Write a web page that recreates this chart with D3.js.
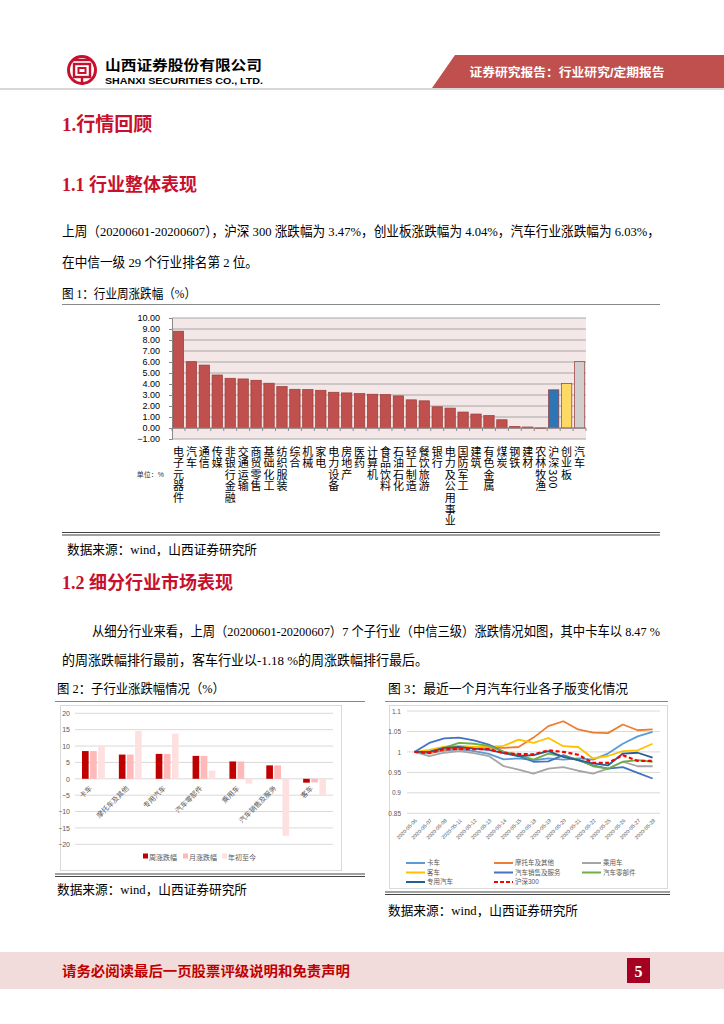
<!DOCTYPE html>
<html>
<head>
<meta charset="utf-8">
<script src="https://cdn.jsdelivr.net/npm/d3@7"></script>
<style>
  body { margin: 0; background: #fff; }
  svg { display: block; }
</style>
</head>
<body>
<div id="page"></div>
<script>
// ---- chart 1 data: weekly change of CITIC level-1 industries (%)
const industries = ["电子元器件","汽车","通信","传媒","非银行金融","交通运输","商贸零售","基础化工","纺织服装","综合","机械","家电","电力设备","房地产","医药","计算机","食品饮料","石油石化","轻工制造","餐饮旅游","银行","电力及公用事业","国防军工","建筑","有色金属","煤炭","钢铁","建材","农林牧渔","沪深300","创业板","汽车"]
const industryChange = [8.80, 6.03, 5.72, 4.82, 4.52, 4.46, 4.34, 4.07, 3.77, 3.52, 3.50, 3.43, 3.25, 3.19, 3.13, 3.07, 3.04, 2.92, 2.56, 2.47, 1.93, 1.81, 1.45, 1.27, 1.14, 0.75, 0.15, 0.09, -0.05, 3.47, 4.04, 6.03]
const industryTicks = [-1, 0, 1, 2, 3, 4, 5, 6, 7, 8, 9, 10]

// ---- chart 2 data: sub-industry change (%)
const subIndustries = ["卡车","摩托车及其他","专用汽车","汽车零部件","乘用车","汽车销售及服务","客车"]
const weekChange = [8.47, 7.40, 7.60, 7.00, 5.30, 4.10, -1.18]
const monthChange = [8.47, 7.40, 7.60, 7.00, 5.30, 4.10, -1.10]
const ytdChange = [10.1, 14.6, 13.8, 2.5, -1.5, -17.4, -5.1]
const subSeries = ["周涨跌幅","月涨跌幅","年初至今"]
const subTicks = [-20, -15, -10, -5, 0, 5, 10, 15, 20]

// ---- chart 3 data: normalised index of sub-sectors over the last month
const dates = ["2020-05-06","2020-05-07","2020-05-08","2020-05-11","2020-05-12","2020-05-13","2020-05-14","2020-05-15","2020-05-18","2020-05-19","2020-05-20","2020-05-21","2020-05-22","2020-05-25","2020-05-26","2020-05-27","2020-05-28"]
const truck     = [1, 0.997, 1.003, 1.007, 1.002, 0.995, 0.982, 0.984, 0.980, 0.984, 0.981, 0.984, 0.981, 0.996, 1.020, 1.038, 1.049]
const moto      = [1, 0.998, 1.005, 1.010, 1.010, 1.010, 1.010, 1.012, 1.035, 1.063, 1.075, 1.055, 1.047, 1.046, 1.067, 1.053, 1.055]
const passenger = [1, 0.990, 0.998, 1.002, 0.997, 0.990, 0.965, 0.957, 0.947, 0.959, 0.963, 0.954, 0.947, 0.959, 0.976, 0.965, 0.965]
const bus       = [1, 1.005, 1.013, 1.015, 1.012, 1.013, 1.015, 1.030, 1.022, 1.034, 1.014, 1.012, 0.984, 0.990, 1.002, 1.004, 1.020]
const sales     = [1, 1.022, 1.033, 1.035, 1.028, 1.018, 1.000, 0.990, 0.976, 0.977, 0.992, 0.980, 0.967, 0.959, 0.963, 0.949, 0.935]
const parts     = [1, 1.000, 1.010, 1.022, 1.020, 1.015, 1.000, 0.993, 0.981, 0.996, 0.989, 0.981, 0.965, 0.959, 0.976, 0.980, 0.976]
const special   = [1, 1.000, 1.010, 1.012, 1.008, 1.005, 0.997, 0.990, 0.992, 1.002, 0.988, 0.980, 0.972, 0.967, 0.996, 0.998, 0.986]
const hs300     = [1, 0.997, 1.007, 1.007, 1.007, 1.007, 0.997, 0.995, 0.994, 1.004, 1.000, 0.993, 0.973, 0.973, 0.992, 0.978, 0.978]
const lineNames = ["卡车","摩托车及其他","乘用车","客车","汽车销售及服务","汽车零部件","专用汽车","沪深300"]
const lineValues = [truck, moto, passenger, bus, sales, parts, special, hs300]
const lineColors = ["#5b9bd5","#ed7d31","#a5a5a5","#ffc000","#4472c4","#70ad47","#255e91","#ff0000"]
const lineTicks = [0.85, 0.9, 0.95, 1, 1.05, 1.1]

const RED = "#c7102e"
const BODY = "'Liberation Serif', 'Noto Sans CJK SC', serif"
const SANS = "'Liberation Sans', 'Noto Sans CJK SC', sans-serif"

const svg = d3.select("#page").append("svg").attr("width", 724).attr("height", 1024)

function txt(x, y, s, size, opts = {}) {
  const t = svg.append("text")
    .attr("x", x).attr("y", y)
    .attr("font-size", size)
    .attr("font-family", opts.family || BODY)
    .attr("fill", opts.fill || "#000")
    .text(s)
  if (opts.weight) t.attr("font-weight", opts.weight)
  if (opts.len) t.attr("textLength", opts.len).attr("lengthAdjust", "spacingAndGlyphs")
  if (opts.anchor) t.attr("text-anchor", opts.anchor)
  return t
}

// ---------- header
const logo = svg.append("g").attr("transform", "translate(82,70)")
logo.append("circle").attr("r", 13.5).attr("fill", "none").attr("stroke", RED).attr("stroke-width", 3)
logo.append("rect").attr("x", -8).attr("y", -6).attr("width", 16).attr("height", 13).attr("fill", "none").attr("stroke", RED).attr("stroke-width", 2.4)
logo.append("rect").attr("x", -3.5).attr("y", -2).attr("width", 7).attr("height", 5).attr("fill", "none").attr("stroke", RED).attr("stroke-width", 2)
logo.append("line").attr("x1", -10).attr("x2", 10).attr("y1", -10).attr("y2", -10).attr("stroke", RED).attr("stroke-width", 2.4)
logo.append("line").attr("x1", 0).attr("x2", 0).attr("y1", 7).attr("y2", 15).attr("stroke", RED).attr("stroke-width", 2.4)

txt(105, 70, "山西证券股份有限公司", 13.5, { family: SANS, weight: "bold", len: 157 })
txt(105, 84, "SHANXI SECURITIES CO., LTD.", 9.5, { family: SANS, weight: "bold", len: 158 })

svg.append("polygon").attr("points", "455,55 724,55 724,88 432,88").attr("fill", "#c0504d")
txt(567, 77, "证券研究报告：行业研究/定期报告", 12, { family: SANS, weight: "bold", fill: "#fff", anchor: "middle", len: 195 })
svg.append("line").attr("x1", 0).attr("x2", 724).attr("y1", 89).attr("y2", 89).attr("stroke", "#b0b0b0").attr("stroke-width", 1)

// ---------- text blocks
txt(62, 131, "1.行情回顾", 19, { weight: "bold", fill: RED })
txt(62, 191, "1.1 行业整体表现", 18, { weight: "bold", fill: RED })
txt(62, 236, "上周（20200601-20200607），沪深 300 涨跌幅为 3.47%，创业板涨跌幅为 4.04%，汽车行业涨跌幅为 6.03%，", 13.5, { len: 598 })
txt(62, 267, "在中信一级 29 个行业排名第 2 位。", 13.5, { len: 196 })
txt(62, 298, "图 1：行业周涨跌幅（%）", 13, { len: 134 })
svg.append("line").attr("x1", 62).attr("x2", 660).attr("y1", 304.5).attr("y2", 304.5).attr("stroke", "#888")

// ---------- chart 1
const x1 = d3.scaleBand().domain(d3.range(industries.length)).range([172, 586]).paddingInner(0.2).paddingOuter(0.1)
const y1 = d3.scaleLinear().domain([-1, 10]).range([439, 318])

svg.append("rect").attr("x", 172).attr("y", y1(10)).attr("width", 414).attr("height", y1(-1) - y1(10)).attr("fill", "#f3e7e7")
svg.append("g").selectAll("line").data(industryTicks).join("line")
  .attr("x1", 172).attr("x2", 586).attr("y1", d => y1(d)).attr("y2", d => y1(d))
  .attr("stroke", "#a6a6a6").attr("stroke-width", 1)

const yAxis1 = svg.append("g").attr("transform", "translate(172,0)")
  .call(d3.axisLeft(y1).tickValues(industryTicks).tickFormat(d3.format(".2f")).tickSize(3).tickPadding(9))
yAxis1.select(".domain").attr("stroke", "#888")
yAxis1.selectAll(".tick line").attr("stroke", "#888")
yAxis1.selectAll("text").attr("font-size", 9).attr("font-family", SANS).attr("fill", "#000")

svg.append("g").selectAll("rect").data(industryChange).join("rect")
  .attr("x", (d, i) => x1(i))
  .attr("width", x1.bandwidth())
  .attr("y", d => y1(Math.max(0, d)))
  .attr("height", d => Math.abs(y1(d) - y1(0)))
  .attr("fill", (d, i) => i === 29 ? "#2e75b6" : i === 30 ? "#ffd966" : i === 31 ? "#d0cece" : "#c0504d")
  .attr("stroke", "#9b3b38").attr("stroke-width", 0.7)

// category axis at zero with ticks between bands
const step1 = 414 / industries.length
svg.append("line").attr("x1", 172).attr("x2", 586).attr("y1", y1(0)).attr("y2", y1(0)).attr("stroke", "#888")
svg.append("g").selectAll("line").data(d3.range(industries.length + 1)).join("line")
  .attr("x1", i => 172 + i * step1).attr("x2", i => 172 + i * step1)
  .attr("y1", y1(0)).attr("y2", y1(0) + 3).attr("stroke", "#888")

// vertical category labels (digits turn sideways, as in the source)
svg.append("g").selectAll("text").data(industries).join("text")
  .attr("x", (d, i) => x1(i) + x1.bandwidth() / 2)
  .attr("y", 446)
  .attr("font-size", 11)
  .attr("font-family", "'Noto Sans CJK SC', sans-serif")
  .attr("letter-spacing", 0.6)
  .style("writing-mode", "vertical-rl")
  .text(d => d)
txt(164, 477, "单位：%", 7, { family: SANS, fill: "#333", anchor: "end" })

svg.append("line").attr("x1", 62).attr("x2", 660).attr("y1", 532.5).attr("y2", 532.5).attr("stroke", "#444")
svg.append("line").attr("x1", 62).attr("x2", 660).attr("y1", 535).attr("y2", 535).attr("stroke", "#444")
txt(67, 554, "数据来源：wind，山西证券研究所", 13, { len: 190 })

// ---------- section 1.2
txt(62, 589, "1.2 细分行业市场表现", 18, { weight: "bold", fill: RED })
txt(92, 636, "从细分行业来看，上周（20200601-20200607）7 个子行业（中信三级）涨跌情况如图，其中卡车以 8.47 %", 13.5, { len: 568 })
txt(62, 665, "的周涨跌幅排行最前，客车行业以-1.18 %的周涨跌幅排行最后。", 13.5, { len: 366 })
txt(57, 693, "图 2：子行业涨跌幅情况（%）", 13, { len: 168 })
txt(388, 693, "图 3：最近一个月汽车行业各子版变化情况", 13, { len: 240 })

// ---------- chart 2
svg.append("line").attr("x1", 55).attr("x2", 365).attr("y1", 701.5).attr("y2", 701.5).attr("stroke", "#888")
svg.append("rect").attr("x", 60.5).attr("y", 705.5).attr("width", 281).attr("height", 165).attr("fill", "#fff").attr("stroke", "#d9d9d9")
const x2 = d3.scaleBand().domain(subIndustries).range([75, 333]).paddingInner(0.38).paddingOuter(0.19)
const x2s = d3.scaleBand().domain(subSeries).range([0, x2.bandwidth()]).paddingInner(0.18)
const y2 = d3.scaleLinear().domain([-20, 20]).range([844.3, 713.3])
const c2 = d3.scaleOrdinal().domain(subSeries).range(["#c00000", "#ffb9b9", "#ffe0e0"])

svg.append("g").selectAll("line").data(subTicks).join("line")
  .attr("x1", 75).attr("x2", 333).attr("y1", d => y2(d)).attr("y2", d => y2(d))
  .attr("stroke", "#d9d9d9")
const yAxis2 = svg.append("g").attr("transform", "translate(75,0)")
  .call(d3.axisLeft(y2).tickValues(subTicks).tickSize(0).tickPadding(5))
yAxis2.select(".domain").remove()
yAxis2.selectAll("text").attr("font-size", 7).attr("font-family", SANS).attr("fill", "#595959")

const subRows = subIndustries.map((s, i) => [weekChange[i], monthChange[i], ytdChange[i]])
svg.append("g").selectAll("g").data(subRows).join("g")
  .attr("transform", (d, i) => `translate(${x2(subIndustries[i])},0)`)
  .selectAll("rect").data(d => d.map((v, k) => ({ v, s: subSeries[k] }))).join("rect")
  .attr("x", d => x2s(d.s)).attr("width", x2s.bandwidth())
  .attr("y", d => y2(Math.max(0, d.v))).attr("height", d => Math.abs(y2(d.v) - y2(0)))
  .attr("fill", d => c2(d.s))

subIndustries.forEach(name => {
  const cx = x2(name) + x2.bandwidth() / 2
  svg.append("text").attr("transform", `translate(${cx - 1},${y2(0) + 10}) rotate(-45)`)
    .attr("text-anchor", "end").attr("font-size", 7).attr("font-family", SANS).attr("fill", "#595959").text(name)
})

const leg2 = svg.append("g").selectAll("g").data(subSeries).join("g")
  .attr("transform", (d, i) => `translate(${[143, 183, 222][i]},858)`)
leg2.append("rect").attr("y", -4.5).attr("width", 5).attr("height", 5).attr("fill", d => c2(d))
leg2.append("text").attr("x", 6).attr("y", 2).attr("font-size", 7).attr("font-family", SANS).attr("fill", "#595959").text(d => d)

svg.append("line").attr("x1", 55).attr("x2", 365).attr("y1", 874).attr("y2", 874).attr("stroke", "#444")
svg.append("line").attr("x1", 55).attr("x2", 365).attr("y1", 876.5).attr("y2", 876.5).attr("stroke", "#444")
txt(57, 894, "数据来源：wind，山西证券研究所", 13, { len: 190 })

// ---------- chart 3
svg.append("line").attr("x1", 385).attr("x2", 668).attr("y1", 701.5).attr("y2", 701.5).attr("stroke", "#888")
svg.append("rect").attr("x", 389.5).attr("y", 705.5).attr("width", 278).attr("height", 183).attr("fill", "#fff").attr("stroke", "#d9d9d9")
const x3 = d3.scalePoint().domain(dates).range([414.4, 652.6])
const y3 = d3.scaleLinear().domain([0.85, 1.1]).range([813.3, 711])

svg.append("g").selectAll("line").data(lineTicks).join("line")
  .attr("x1", 407).attr("x2", 660).attr("y1", d => y3(d)).attr("y2", d => y3(d))
  .attr("stroke", "#d9d9d9")
const yAxis3 = svg.append("g").attr("transform", "translate(407,0)")
  .call(d3.axisLeft(y3).tickValues(lineTicks).tickFormat(d => String(+d.toFixed(2))).tickSize(0).tickPadding(6))
yAxis3.select(".domain").remove()
yAxis3.selectAll("text").attr("font-size", 6.5).attr("font-family", SANS).attr("fill", "#595959")

dates.forEach(d => {
  svg.append("text").attr("transform", `translate(${x3(d) + 3},${821}) rotate(-45)`)
    .attr("text-anchor", "end").attr("font-size", 5.2).attr("font-family", SANS).attr("fill", "#595959").text(d)
})

const line3 = d3.line().x((v, i) => x3(dates[i])).y(v => y3(v))
svg.append("g").selectAll("path").data(lineValues).join("path")
  .attr("d", d => line3(d))
  .attr("fill", "none")
  .attr("stroke", (d, i) => lineColors[i])
  .attr("stroke-width", (d, i) => i === 7 ? 2.2 : 1.8)
  .attr("stroke-dasharray", (d, i) => i === 7 ? "4,2.5" : null)
  .attr("stroke-linejoin", "round")

const legPos = [[406, 863], [494, 863], [582, 863], [406, 872.5], [494, 872.5], [582, 872.5], [406, 882], [494, 882]]
const leg3 = svg.append("g").selectAll("g").data(lineNames).join("g")
  .attr("transform", (d, i) => `translate(${legPos[i][0]},${legPos[i][1]})`)
leg3.append("line").attr("x1", 0).attr("x2", 19).attr("stroke", (d, i) => lineColors[i])
  .attr("stroke-width", 2).attr("stroke-dasharray", (d, i) => i === 7 ? "4,2" : null)
leg3.append("text").attr("x", 21).attr("y", 2.3).attr("font-size", 6.5).attr("font-family", SANS).attr("fill", "#595959").text(d => d)

svg.append("line").attr("x1", 385).attr("x2", 670).attr("y1", 892).attr("y2", 892).attr("stroke", "#444")
svg.append("line").attr("x1", 385).attr("x2", 670).attr("y1", 894.5).attr("y2", 894.5).attr("stroke", "#444")
txt(388, 915, "数据来源：wind，山西证券研究所", 13, { len: 190 })

// ---------- footer
svg.append("rect").attr("x", 0).attr("y", 952).attr("width", 724).attr("height", 37).attr("fill", "#f2dcdb")
txt(62, 976, "请务必阅读最后一页股票评级说明和免责声明", 14, { weight: "bold", fill: "#c00000", len: 288 })
svg.append("rect").attr("x", 627).attr("y", 958).attr("width", 23).attr("height", 25).attr("fill", "#a50021")
txt(638.5, 977, "5", 16, { weight: "bold", fill: "#fff", anchor: "middle" })
</script>
</body>
</html>
